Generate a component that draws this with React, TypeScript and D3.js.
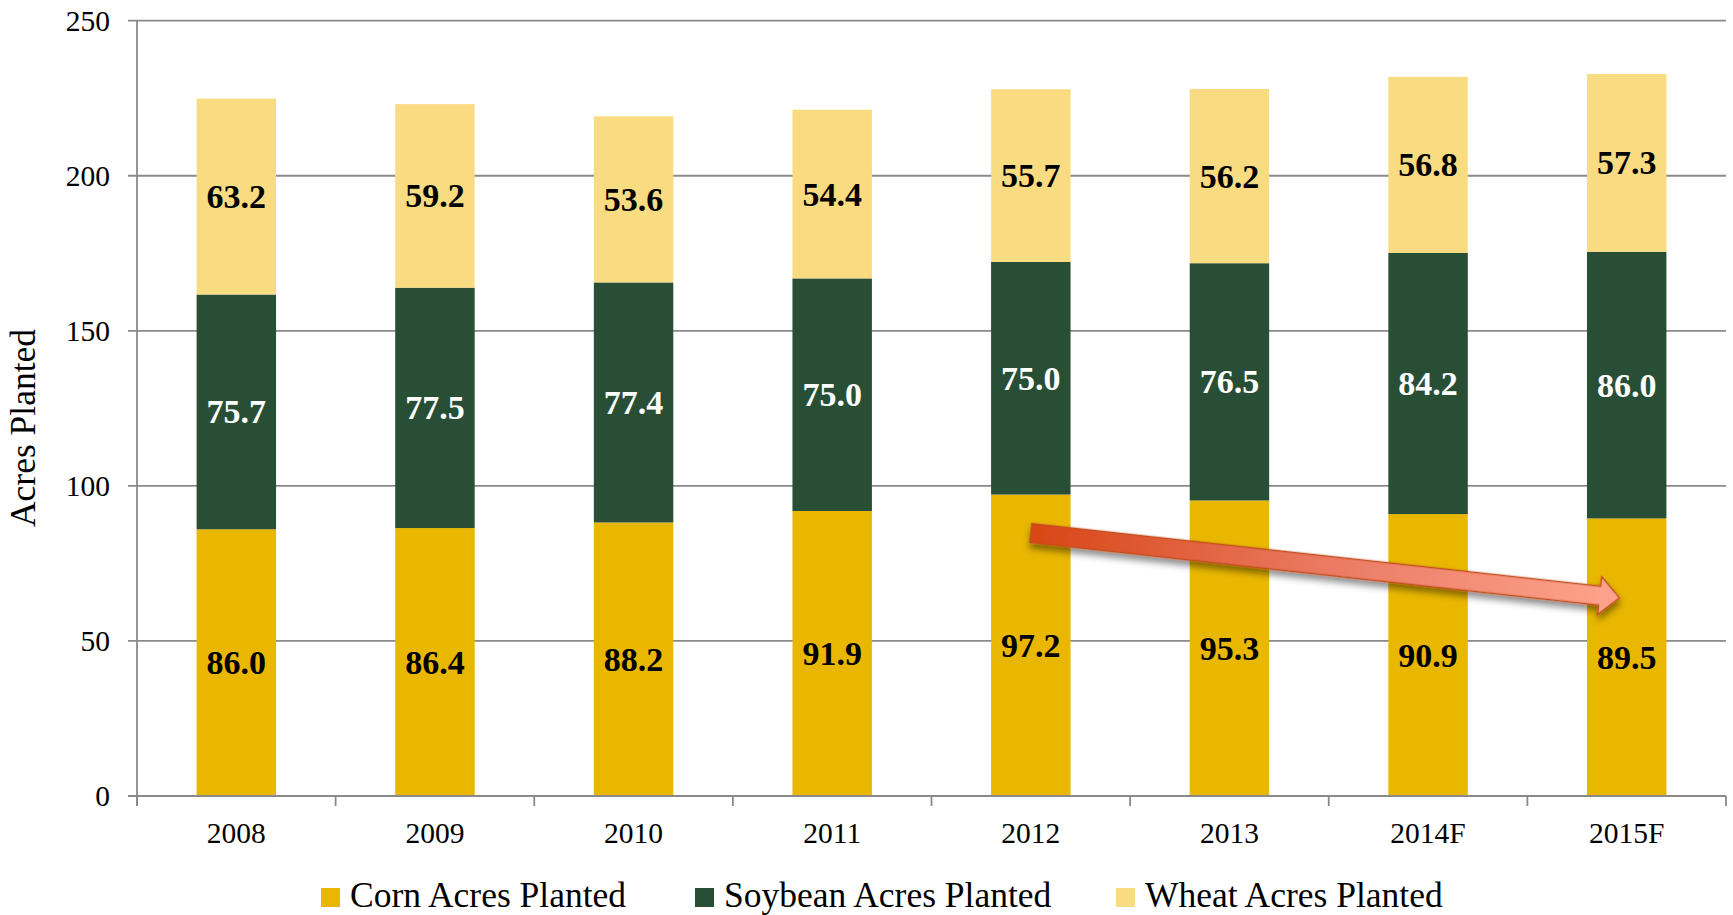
import React from 'react';
import * as d3 from 'd3';

const categories = ['2008', '2009', '2010', '2011', '2012', '2013', '2014F', '2015F'];
const corn = [86.0, 86.4, 88.2, 91.9, 97.2, 95.3, 90.9, 89.5];
const soybean = [75.7, 77.5, 77.4, 75.0, 75.0, 76.5, 84.2, 86.0];
const wheat = [63.2, 59.2, 53.6, 54.4, 55.7, 56.2, 56.8, 57.3];
const yTicks = [0, 50, 100, 150, 200, 250];
const seriesKeys = ['corn', 'soybean', 'wheat'];
const seriesNames = ['Corn Acres Planted', 'Soybean Acres Planted', 'Wheat Acres Planted'];
const seriesColors = ['#E9B700', '#284F36', '#F9DC82'];
const labelColors = ['#000000', '#FFFFFF', '#000000'];
const yLabel = 'Acres Planted';
// trend arrow annotation (category, value)
const arrowFrom = { cat: '2012', value: 84.8, offset: 0 };
const arrowTo = { cat: '2015F', value: 63.9, offset: -0.09 };

const W = 1733;
const H = 915;
const M = { left: 137, right: 1726, top: 20.7, bottom: 796 };
const FONT = '"Liberation Serif", "Times New Roman", serif';
const GRID = '#8A8A8A';

export default function App() {
  const rows = categories.map((c, i) => ({ cat: c, corn: corn[i], soybean: soybean[i], wheat: wheat[i] }));
  const stacked = d3.stack<any>().keys(seriesKeys)(rows);

  const x = d3.scaleBand<string>().domain(categories).range([M.left, M.right]).paddingInner(0.6).paddingOuter(0.3);
  const y = d3.scaleLinear().domain([0, 250]).range([M.bottom, M.top]);
  const step = x.step();
  const bw = x.bandwidth();

  const ax = (x(arrowFrom.cat) as number) + bw / 2 + arrowFrom.offset * bw;
  const ay = y(arrowFrom.value);
  const bx = (x(arrowTo.cat) as number) + bw / 2 + arrowTo.offset * bw;
  const by = y(arrowTo.value);
  const L = Math.hypot(bx - ax, by - ay);
  const ang = (Math.atan2(by - ay, bx - ax) * 180) / Math.PI;
  const sh = 9.5;
  const hh = 19;
  const hl = 20;
  const arrowPts = [
    [0, -sh], [L - hl, -sh], [L - hl, -hh], [L, 0], [L - hl, hh], [L - hl, sh], [0, sh],
  ].map((p) => p.join(',')).join(' ');

  const legendX = [321, 695, 1116];

  return (
    <svg width={W} height={H} style={{ position: 'absolute', left: 0, top: 0, background: '#fff' }} fontFamily={FONT}>
      <defs>
        <linearGradient id="arrowGrad" gradientUnits="userSpaceOnUse" x1={0} y1={0} x2={L} y2={0}>
          <stop offset="0%" stopColor="#D84616" />
          <stop offset="50%" stopColor="#EA7A62" />
          <stop offset="100%" stopColor="#FDA38D" />
        </linearGradient>
        <filter id="shadow" x="-10%" y="-50%" width="120%" height="250%">
          <feDropShadow dx="1" dy="5" stdDeviation="3.5" floodColor="#000" floodOpacity="0.45" />
        </filter>
      </defs>

      {/* gridlines */}
      {yTicks.filter((t) => t > 0).map((t) => (
        <line key={t} x1={M.left - 9} x2={M.right} y1={y(t)} y2={y(t)} stroke={GRID} strokeWidth={1.8} />
      ))}

      {/* bars */}
      {stacked.map((s, si) => (
        <g key={s.key}>
          {s.map((d, i) => (
            <rect key={i} x={x(categories[i])} y={y(d[1])} width={bw} height={y(d[0]) - y(d[1])} fill={seriesColors[si]} />
          ))}
        </g>
      ))}

      {/* axes */}
      <line x1={M.left} x2={M.left} y1={M.top} y2={M.bottom + 10} stroke={GRID} strokeWidth={1.8} />
      <line x1={M.left - 9} x2={M.right} y1={M.bottom} y2={M.bottom} stroke={GRID} strokeWidth={1.8} />
      {d3.range(categories.length + 1).map((i) => (
        <line key={i} x1={M.left + i * step} x2={M.left + i * step} y1={M.bottom} y2={M.bottom + 10} stroke={GRID} strokeWidth={1.8} />
      ))}
      {yTicks.map((t) => (
        <text key={t} x={110} y={y(t)} textAnchor="end" dominantBaseline="central" fontSize={29.5} fill="#000">{t}</text>
      ))}
      {categories.map((c) => (
        <text key={c} x={(x(c) as number) + bw / 2} y={843} textAnchor="middle" fontSize={29.5} fill="#000">{c}</text>
      ))}
      <text transform={`translate(35,428) rotate(-90)`} textAnchor="middle" fontSize={35.5} fill="#000">{yLabel}</text>

      {/* data labels */}
      {stacked.map((s, si) => (
        <g key={'l' + s.key}>
          {s.map((d, i) => (
            <text key={i} x={(x(categories[i]) as number) + bw / 2} y={y((d[0] + d[1]) / 2)} textAnchor="middle" dominantBaseline="central"
              fontSize={34} fontWeight="bold" fill={labelColors[si]}>
              {(d[1] - d[0]).toFixed(1)}
            </text>
          ))}
        </g>
      ))}

      {/* trend arrow */}
      <g transform={`translate(${ax},${ay}) rotate(${ang})`} filter="url(#shadow)">
        <polygon points={arrowPts} fill="url(#arrowGrad)" stroke="#C4501F" strokeWidth={1.5} strokeLinejoin="miter" />
      </g>

      {/* legend */}
      {seriesNames.map((n, i) => (
        <g key={n}>
          <rect x={legendX[i]} y={888} width={19} height={19} fill={seriesColors[i]} />
          <text x={legendX[i] + 29} y={906.5} fontSize={35.5} fill="#000">{n}</text>
        </g>
      ))}
    </svg>
  );
}
